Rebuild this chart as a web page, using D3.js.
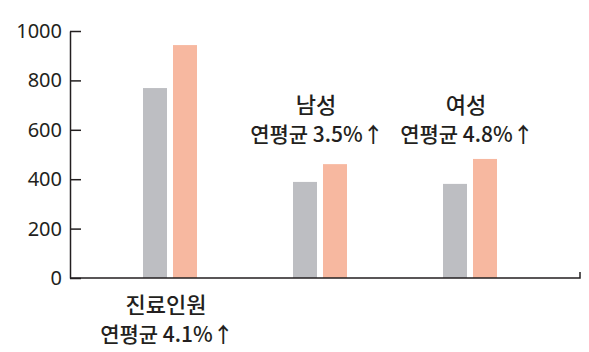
<!DOCTYPE html>
<html>
<head>
<meta charset="utf-8">
<title>진료인원 연평균 증가율</title>
<style>
  body { margin: 0; background: #fff; }
  text { font-family: "Noto Sans CJK KR", "Noto Sans", sans-serif; fill: #231f20; }
</style>
</head>
<body>
<svg width="589" height="352"></svg>
<script src="https://d3js.org/d3.v7.min.js"></script>
<script>

    // data
    var groups = ["진료인원", "남성", "여성"];
    var growth = ["4.1", "3.5", "4.8"];
    var keys = ["before", "after"];
    var before = [769, 389, 381];
    var after = [943, 461, 482];
    var yTicks = [0, 200, 400, 600, 800, 1000];

    var data = groups.map(function (g, i) {
        return { group: g, rate: growth[i], before: before[i], after: after[i] };
    });

    var svg = d3.select("svg");

    var y = d3.scaleLinear().domain([0, 1000]).range([278, 31]);

    var x0 = d3.scaleBand().domain(groups).range([95, 545]);
    var x1 = d3.scaleBand().domain(keys).range([-27, 27]).paddingInner(0.2);
    var z = d3.scaleOrdinal().domain(keys).range(["#bdbec2", "#f7b8a0"]);

    var axisLeft = 70, axisRight = 580;

    // bars
    var grp = svg.selectAll(".grp")
        .data(data)
        .enter().append("g")
        .attr("class", "grp")
        .attr("transform", function (d) { return "translate(" + (x0(d.group) + x0.bandwidth() / 2) + ",0)"; });

    grp.selectAll("rect")
        .data(function (d) { return keys.map(function (k) { return { key: k, value: d[k] }; }); })
        .enter().append("rect")
        .attr("x", function (d) { return x1(d.key); })
        .attr("width", x1.bandwidth())
        .attr("y", function (d) { return y(d.value); })
        .attr("height", function (d) { return y(0) - y(d.value); })
        .attr("fill", function (d) { return z(d.key); });

    // y axis with inward ticks
    var gy = svg.append("g")
        .attr("transform", "translate(" + axisLeft + ",0)")
        .call(d3.axisLeft(y).tickValues(yTicks).tickFormat(d3.format("d"))
            .tickSizeInner(-11).tickSizeOuter(0).tickPadding(8));
    gy.selectAll("path, line").attr("stroke", "#231f20").attr("stroke-width", 1.5);
    gy.selectAll("text")
        .style("font-family", "'Noto Sans', sans-serif")
        .style("font-size", "20px")
        .attr("fill", "#231f20");

    // x axis line with end tick
    svg.append("path")
        .attr("d", "M" + axisLeft + "," + y(0) + "H" + axisRight + "V" + (y(0) - 6))
        .attr("fill", "none")
        .attr("stroke", "#231f20")
        .attr("stroke-width", 1.5);

    // labels: first group under the axis, the others above their bars
    var lab = svg.selectAll(".lab")
        .data(data)
        .enter().append("text")
        .attr("class", "lab")
        .attr("text-anchor", "middle")
        .style("font-size", "21px")
        .style("font-weight", 500);

    lab.append("tspan")
        .attr("x", function (d) { return x0(d.group) + x0.bandwidth() / 2 - 4; })
        .attr("y", function (d, i) { return i === 0 ? 313 : 113; })
        .style("font-size", "22px")
        .text(function (d) { return d.group; });

    lab.append("tspan")
        .attr("x", function (d) { return x0(d.group) + x0.bandwidth() / 2 - 3; })
        .attr("y", function (d, i) { return i === 0 ? 342 : 142; })
        .text(function (d) { return "연평균 " + d.rate + "%↑"; });

</script>
</body>
</html>
